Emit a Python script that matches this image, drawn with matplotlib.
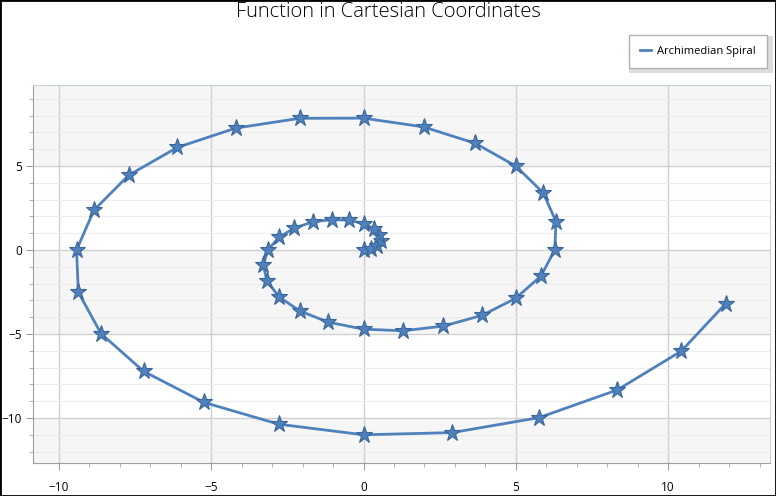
import matplotlib
matplotlib.use('Agg')
import matplotlib.pyplot as plt
from matplotlib.patches import Rectangle
from matplotlib.ticker import MultipleLocator

# points of the spiral
x = [0.0, 0.25, 0.45, 0.56, 0.52, 0.34, 0.0, -0.47, -1.05, -1.67, -2.27, -2.78,
     -3.14, -3.29, -3.17, -2.78, -2.09, -1.15, 0.0, 1.29, 2.62, 3.89, 4.99, 5.82,
     6.28, 6.32, 5.9, 5.0, 3.67, 1.97, 0.0, -2.1, -4.19, -6.11, -7.71, -8.85,
     -9.42, -9.36, -8.62, -7.22, -5.24, -2.78, 0.0, 2.91, 5.76, 8.33, 10.43, 11.89]
y = [0.0, 0.07, 0.26, 0.56, 0.91, 1.26, 1.57, 1.77, 1.81, 1.67, 1.31, 0.75,
     0.0, -0.88, -1.83, -2.78, -3.63, -4.3, -4.71, -4.81, -4.53, -3.89, -2.88, -1.56,
     0.0, 1.69, 3.4, 5.0, 6.35, 7.33, 7.85, 7.84, 7.26, 6.11, 4.45, 2.37,
     0.0, -2.51, -4.97, -7.22, -9.07, -10.37, -11.0, -10.87, -9.98, -8.33, -6.02, -3.19]
series_name = 'Archimedian Spiral'
title = 'Function in Cartesian Coordinates'

plt.rcParams['font.family'] = ['Open Sans', 'DejaVu Sans']

fig = plt.figure(figsize=(7.76, 4.96), dpi=100)
ax = fig.add_axes([0.0425, 0.0665, 0.95, 0.762])

xmin, xmax = -10.85, 13.35
ymin, ymax = -12.68, 9.82
ax.set_xlim(xmin, xmax)
ax.set_ylim(ymin, ymax)

# alternating bands
for lo, hi in [(5, ymax), (-5, 0), (ymin, -10)]:
	ax.axhspan(lo, hi, color='#f6f6f6', zorder=0, lw=0)

ax.xaxis.set_major_locator(MultipleLocator(5))
ax.xaxis.set_minor_locator(MultipleLocator(1))
ax.yaxis.set_major_locator(MultipleLocator(5))
ax.yaxis.set_minor_locator(MultipleLocator(1))

ax.grid(True, which='major', color='#d0d0d0', lw=1, zorder=1)
ax.grid(True, which='minor', axis='y', color='#ededed', lw=0.8, zorder=1)
ax.set_axisbelow(True)

ax.tick_params(which='major', direction='out', length=5, color='#a0a0a0', labelsize=8.5)
ax.tick_params(which='minor', direction='out', length=3, color='#a0a0a0')
ax.tick_params(axis='x', pad=8)
ax.tick_params(axis='y', pad=3)
for s in ['left', 'bottom']:
	ax.spines[s].set_color('#a0a0a0')
for s in ['top', 'right']:
	ax.spines[s].set_color('#c8d0d8')

ax.plot(x, y, color='#4f81bd', lw=2, marker='*', markersize=12.5,
        markerfacecolor='#4f81bd', markeredgecolor='#3a6598', markeredgewidth=0.8,
        label=series_name, zorder=3)

fig.text(0.5, 0.975, title, ha='center', va='center', fontsize=14.5, fontweight='light')

# legend with shadow, outside the plot
sh = Rectangle((629 / 776, 1 - 73 / 496), 144 / 776, 37 / 496, transform=fig.transFigure,
               facecolor='#dddddd', edgecolor='none', zorder=0)
fig.patches.append(sh)
leg = fig.legend(loc='center', bbox_to_anchor=(698 / 776, 1 - 51.5 / 496), fontsize=8,
                 frameon=True, fancybox=False, handlelength=1.0, borderpad=1.0,
                 handletextpad=0.5)
leg.get_frame().set_edgecolor('#b0b0b0')
leg.get_frame().set_linewidth(1)
leg.get_frame().set_alpha(1)
for h in leg.legend_handles:
	h.set_marker('')

# outer border
fig.patches.append(Rectangle((0, 0), 1, 1, transform=fig.transFigure, fill=False,
                             edgecolor='black', lw=2))

fig.savefig('out.png', dpi=100)
